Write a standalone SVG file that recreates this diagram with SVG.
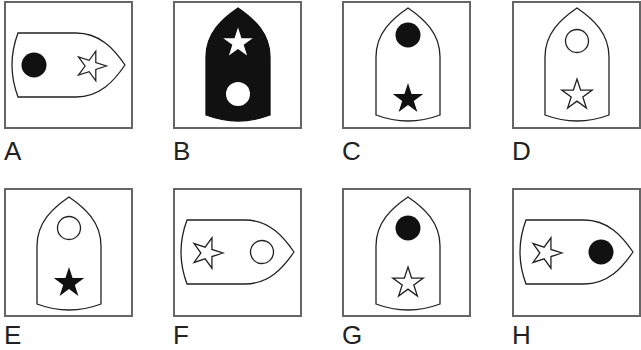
<svg xmlns="http://www.w3.org/2000/svg" xmlns:xlink="http://www.w3.org/1999/xlink" width="641" height="350" viewBox="0 0 641 350">
<style>
.box{fill:#fff;stroke:#666;stroke-width:2}
.boat{fill:#fff;stroke:#222;stroke-width:1.3}
.boatb{fill:#111;stroke:#111;stroke-width:1.3}
.blk{fill:#111;stroke:none}
.wht{fill:#fff;stroke:none}
.out{fill:#fff;stroke:#222;stroke-width:1.3}
.lbl{font-family:"Liberation Sans",Arial,sans-serif;font-size:26px;fill:#222}
</style>
<defs>
<path id="boat" d="M-32,107 L-32,49 C-32,25 -16,11 0,0 C16,11 32,25 32,49 L32,107 Q0,119 -32,107 Z"/>
<path id="star" d="M0,-16 L3.59,-4.94 L15.22,-4.94 L5.81,1.89 L9.4,12.94 L0,6.11 L-9.4,12.94 L-5.81,1.89 L-15.22,-4.94 L-3.59,-4.94 Z"/>
</defs>
<rect width="641" height="350" fill="#fff"/>
<g id="A">
<rect class="box" x="5" y="2" width="127" height="126"/>
<use href="#boat" class="boat" transform="translate(125,65) rotate(90)"/>
<circle class="blk" cx="34" cy="65" r="12.5"/>
<use href="#star" class="out" transform="translate(91,66) rotate(90) scale(0.97)"/>
<text class="lbl" x="4" y="160">A</text>
</g>
<g id="B">
<rect class="box" x="174" y="2" width="127" height="126"/>
<use href="#boat" class="boatb" transform="translate(238,8)"/>
<use href="#star" class="wht" transform="translate(238,43) scale(0.97)"/>
<circle class="wht" cx="238" cy="94" r="12"/>
<text class="lbl" x="173" y="160">B</text>
</g>
<g id="C">
<rect class="box" x="343" y="2" width="127" height="126"/>
<use href="#boat" class="boat" transform="translate(408,8)"/>
<circle class="blk" cx="408" cy="35" r="12.5"/>
<use href="#star" class="blk" transform="translate(408,99)"/>
<text class="lbl" x="342" y="160">C</text>
</g>
<g id="D">
<rect class="box" x="513" y="2" width="127" height="126"/>
<use href="#boat" class="boat" transform="translate(577,8)"/>
<circle class="out" cx="577" cy="41" r="11.5"/>
<use href="#star" class="out" transform="translate(577,95)"/>
<text class="lbl" x="512" y="160">D</text>
</g>
<g id="E">
<rect class="box" x="5" y="189" width="127" height="127"/>
<use href="#boat" class="boat" transform="translate(69,197)"/>
<circle class="out" cx="69" cy="228" r="11.5"/>
<use href="#star" class="blk" transform="translate(69,283)"/>
<text class="lbl" x="4" y="344">E</text>
</g>
<g id="F">
<rect class="box" x="174" y="189" width="127" height="127"/>
<use href="#boat" class="boat" transform="translate(294,252) rotate(90)"/>
<use href="#star" class="out" transform="translate(207,253) rotate(90)"/>
<circle class="out" cx="262" cy="252" r="11.5"/>
<text class="lbl" x="173" y="344">F</text>
</g>
<g id="G">
<rect class="box" x="343" y="189" width="127" height="127"/>
<use href="#boat" class="boat" transform="translate(408,197)"/>
<circle class="blk" cx="408" cy="228" r="12.5"/>
<use href="#star" class="out" transform="translate(408,283)"/>
<text class="lbl" x="342" y="344">G</text>
</g>
<g id="H">
<rect class="box" x="513" y="189" width="127" height="127"/>
<use href="#boat" class="boat" transform="translate(633,252) rotate(90)"/>
<use href="#star" class="out" transform="translate(546,253) rotate(90)"/>
<circle class="blk" cx="601" cy="252" r="12.5"/>
<text class="lbl" x="512" y="344">H</text>
</g>
<g id="connectors"/>
</svg>
